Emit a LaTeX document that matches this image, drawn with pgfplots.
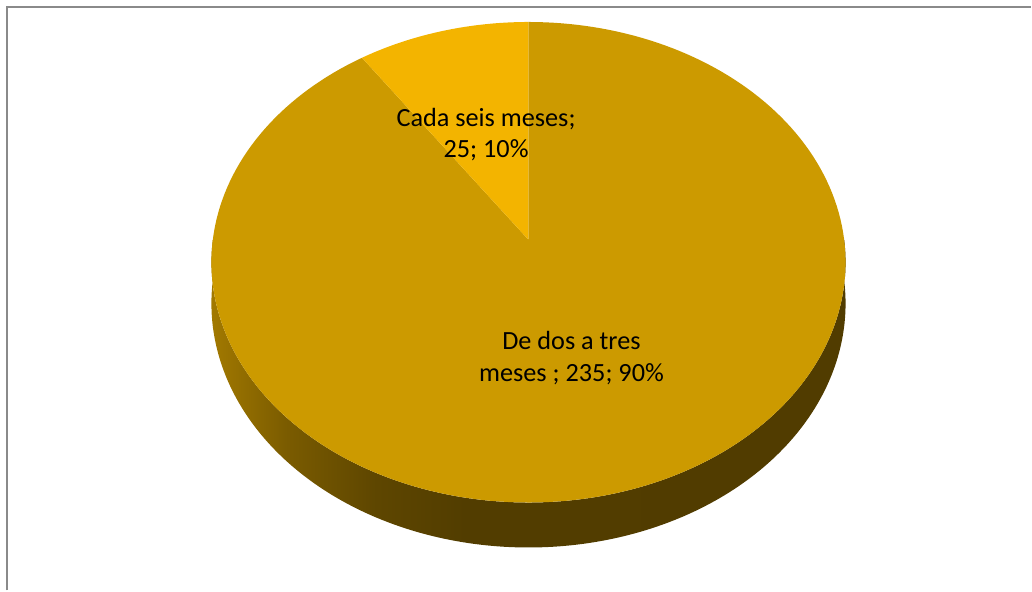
\documentclass[border=0pt]{standalone}
\usepackage{pgfplots}
\pgfplotsset{compat=1.18}
\usepackage{pgfplotstable}
\usepackage{fontspec}
\setmainfont{Carlito}
\definecolor{bigslice}{RGB}{204,154,0}
\definecolor{smallslice}{RGB}{243,180,0}
\definecolor{sideA}{RGB}{162,121,0}
\definecolor{sideB}{RGB}{122,91,0}
\definecolor{sideC}{RGB}{94,70,0}
\definecolor{sideD}{RGB}{82,61,0}
\definecolor{sideE}{RGB}{80,59,0}
\definecolor{framegray}{RGB}{138,138,138}
\pgfdeclarehorizontalshading{sideshade}{100bp}{%
  color(0bp)=(sideA); color(25bp)=(sideA); color(31bp)=(sideB);
  color(38bp)=(sideC); color(45bp)=(sideD); color(100bp)=(sideE)}
\pgfplotstableread{
label value
{Cada seis meses} 25
{De dos a tres meses} 235
}\piedata
\pgfplotstablegetelem{0}{value}\of\piedata \let\va\pgfplotsretval
\pgfplotstablegetelem{1}{value}\of\piedata \let\vb\pgfplotsretval
\pgfmathsetmacro\angA{90+360*\va/(\va+\vb)}
\begin{document}
\begin{tikzpicture}
\begin{axis}[
  width=774pt, height=443.25pt, scale only axis,
  xmin=0, xmax=1032, ymin=0, ymax=591,
  hide axis, clip=false,
  declare function={
    S(\t)=\t-2*(\t-360)*(\t>360);
    H(\t)=(\t>360);
    W(\s)=1+0.0936*sin(\s);
    PX(\s)=529+316*cos(\s)/W(\s);
    PY(\s)=351+238.4*sin(\s)/W(\s);
  },
]
\path (axis cs:0,0) rectangle (axis cs:1032,591);
% frame
\draw[framegray, line width=1.5pt] (axis cs:7,0) -- (axis cs:7,584) -- (axis cs:1032,584);
% side of the pie
\addplot[draw=none, shading=sideshade, shading angle=0,
  domain=180:540, samples=361, variable=\t]
  ({PX(S(\t))}, {PY(S(\t)) - 40.8*H(\t)/W(S(\t))}) -- cycle;
% big slice
\addplot[draw=none, fill=bigslice, domain=\angA:450, samples=200, variable=\t]
  ({PX(\t)}, {PY(\t)}) -- (axis cs:529,351) -- cycle;
% small slice
\addplot[draw=none, fill=smallslice, domain=90:\angA, samples=40, variable=\t]
  ({PX(\t)}, {PY(\t)}) -- (axis cs:529,351) -- cycle;
% labels
\begin{scope}[every node/.style={anchor=base, font=\fontsize{19.7}{23.5}\selectfont, text=black, inner sep=0pt}]
\node at (axis cs:486.5,464) {Cada seis meses;};
\node at (axis cs:486.5,433) {25; 10\%};
\node at (axis cs:572,241) {De dos a tres};
\node at (axis cs:572,209.3) {meses ; 235; 90\%};
\end{scope}
\end{axis}
\end{tikzpicture}
\end{document}
